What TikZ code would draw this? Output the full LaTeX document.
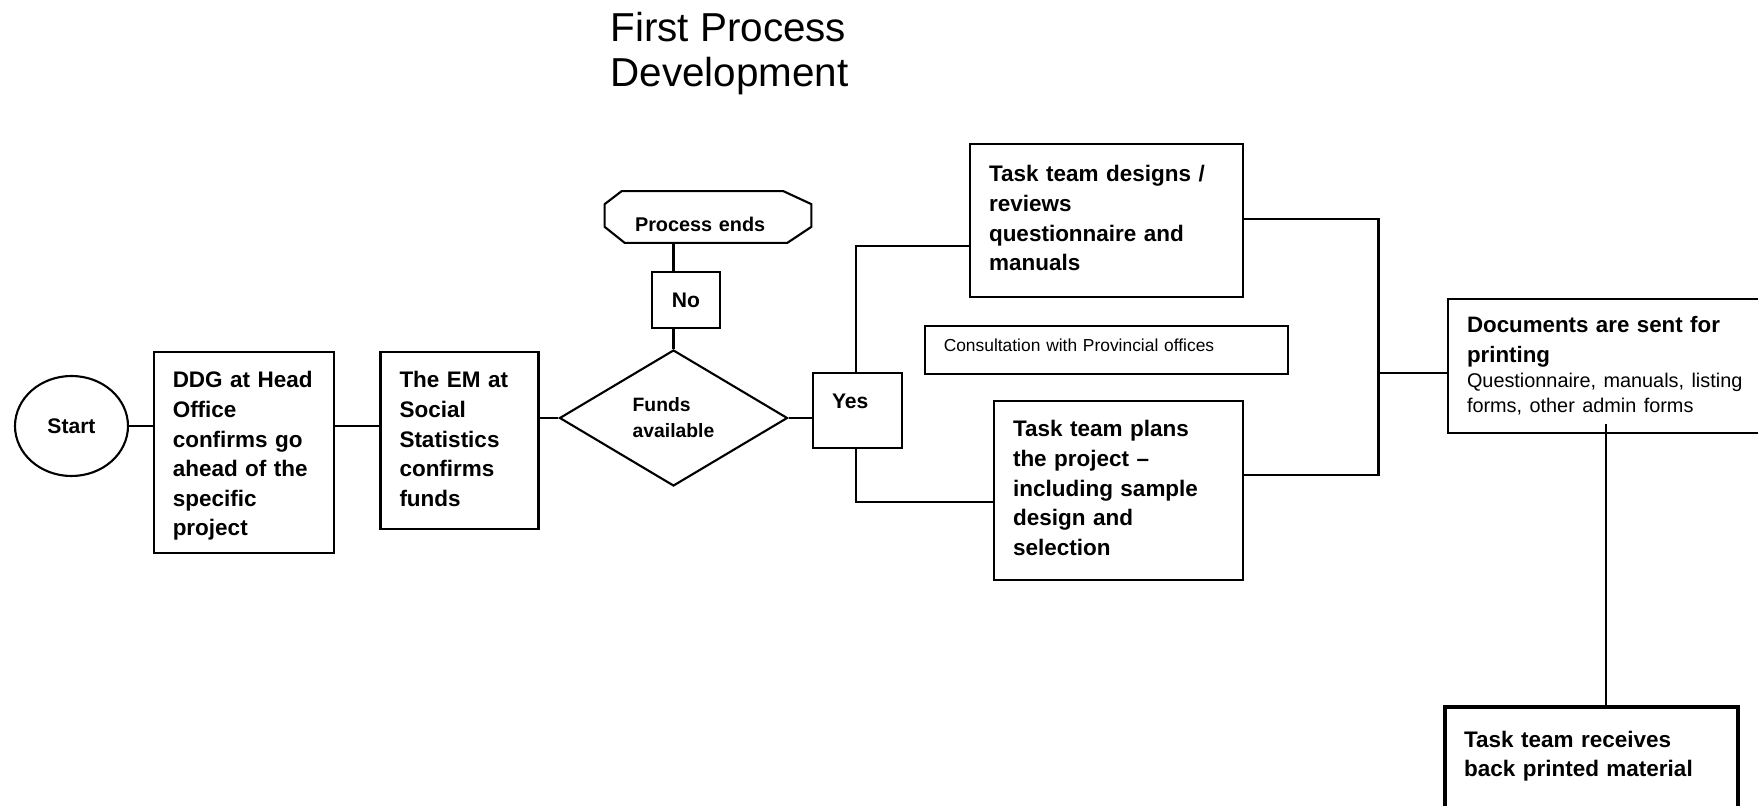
\documentclass[tikz,border=0pt]{standalone}
\usepackage{fontspec}
\setmainfont{Liberation Sans}
\usetikzlibrary{positioning, shapes}

\begin{document}
\begin{tikzpicture}[node distance=1cm, on grid, auto,
    entry/.style = {draw, rectangle, line width=1.2pt, inner xsep=0.38cm, inner ysep=0pt,
                    align=left, font=\bfseries\fontsize{12.8}{16.8}\selectfont},
    link/.style = {line width=1.2pt}]

    \useasboundingbox (0,0) rectangle (35.16,16.1);

    % Title
    \node [anchor=north west, inner sep=0pt, align=left,
           font=\fontsize{23}{25.5}\selectfont] (title) at (12.2,15.86) {First Process\\Development};

    % States
    \node [draw, ellipse, line width=1.2pt, minimum width=2.26cm, minimum height=2.0cm, inner sep=0pt,
           font=\bfseries\fontsize{12}{16.8}\selectfont] (start) at (1.43,7.58) {Start};
    \node [entry, text width=2.85cm, text height=0.72cm, text depth=3.3cm] (ddg)
          [below right=0.53cm and 3.45cm of start] {DDG at Head\\Office\\confirms go\\ahead of the\\specific\\project};
    \node [entry, text width=2.4cm, text height=0.72cm, text depth=2.82cm] (em)
          [above right=0.24cm and 4.31cm of ddg] {The EM at\\Social\\Statistics\\confirms\\funds};
    \node [draw, diamond, line width=1.2pt, aspect=1.69, inner sep=0pt, minimum width=4.56cm,
           minimum height=2.72cm, align=left, font=\bfseries\fontsize{11}{14.8}\selectfont] (fund)
          [above right=0.45cm and 4.28cm of em] {Funds\\available};
    \node [entry, align=center, minimum width=1.36cm, text height=0.72cm, text depth=0.4cm,
           font=\bfseries\fontsize{12}{16.8}\selectfont] (no)
          [above right=2.36cm and 0.25cm of fund] {No};
    \node [inner xsep=0.6cm, inner ysep=0pt, text width=2.92cm, align=left, text height=0.8cm,
           text depth=0.22cm, font=\bfseries\fontsize{11.3}{16.8}\selectfont] (pe)
          [above right=1.66cm and 0.44cm of no] {Process ends};
    \draw [link] ([xshift=0.34cm]pe.north west) -- ([xshift=-0.56cm]pe.north east)
          -- ([yshift=-0.26cm]pe.north east) -- ([yshift=0.32cm]pe.south east)
          -- ([xshift=-0.48cm]pe.south east) -- ([xshift=0.4cm]pe.south west)
          -- ([yshift=0.32cm]pe.south west) -- ([yshift=-0.26cm]pe.north west) -- cycle;
    \node [entry, text width=1.02cm, text height=0.72cm, text depth=0.78cm,
           font=\bfseries\fontsize{12}{16.8}\selectfont] (yes)
          [above right=0.15cm and 3.68cm of fund] {Yes};
    \node [entry, text width=4.7cm, text height=0.76cm, text depth=2.3cm] (design)
          [above right=3.8cm and 4.98cm of yes] {Task team designs /\\reviews\\questionnaire and\\manuals};
    \node [entry, text width=6.51cm, text height=0.52cm, text depth=0.44cm,
           font=\fontsize{9.9}{11}\selectfont] (consult)
          [below=2.59cm of design] {Consultation with Provincial offices};
    \node [entry, text width=4.22cm, text height=0.72cm, text depth=2.86cm] (plans)
          [below right=2.81cm and 0.24cm of consult] {Task team plans\\the project --\\including sample\\design and\\selection};
    \node [entry, text width=5.78cm, text height=0.68cm, text depth=2.0cm,
           font=\bfseries\fontsize{12.7}{16.8}\selectfont] (docs)
          [above right=2.49cm and 9.86cm of plans] {Documents are sent for\\printing\\
          {\mdseries\fontsize{11.3}{14.2}\selectfont Questionnaire, manuals, listing\\[-2.6pt]forms, other admin forms}};
    \node [entry, line width=2.5pt, text width=5.1cm, text height=0.8cm, text depth=1.36cm] (recv)
          [below left=7.9cm and 0.4cm of docs] {Task team receives\\back printed material};

    % Transitions
    \draw [link] (start.east) -- (ddg.west |- start.east);
    \draw [link] (ddg.east |- start.east) -- (em.west |- start.east);
    \draw [link] (em.east |- fund.west) -- (fund.west);
    \draw [link] (fund.north) -- (fund.north |- no.south);
    \draw [link] (fund.north |- no.north) -- (fund.north |- pe.south);
    \draw [link] (fund.east) -- (yes.west |- fund.east);
    \draw [link] ([xshift=-0.03cm]yes.north) |- ([yshift=-0.51cm]design.west);
    \draw [link] ([xshift=-0.03cm]yes.south) |- ([yshift=-0.23cm]plans.west);
    \coordinate (join) at (27.57,8.64);
    \draw [link] ([yshift=0.03cm]design.east) -| (join) |- ([yshift=0.31cm]plans.east);
    \draw [link] (join) -- (docs.west |- join);
    \draw [link] ([xshift=-0.11cm,yshift=0.2cm]docs.south) -- ([xshift=-0.11cm]docs.south |- recv.north);
\end{tikzpicture}
\end{document}
